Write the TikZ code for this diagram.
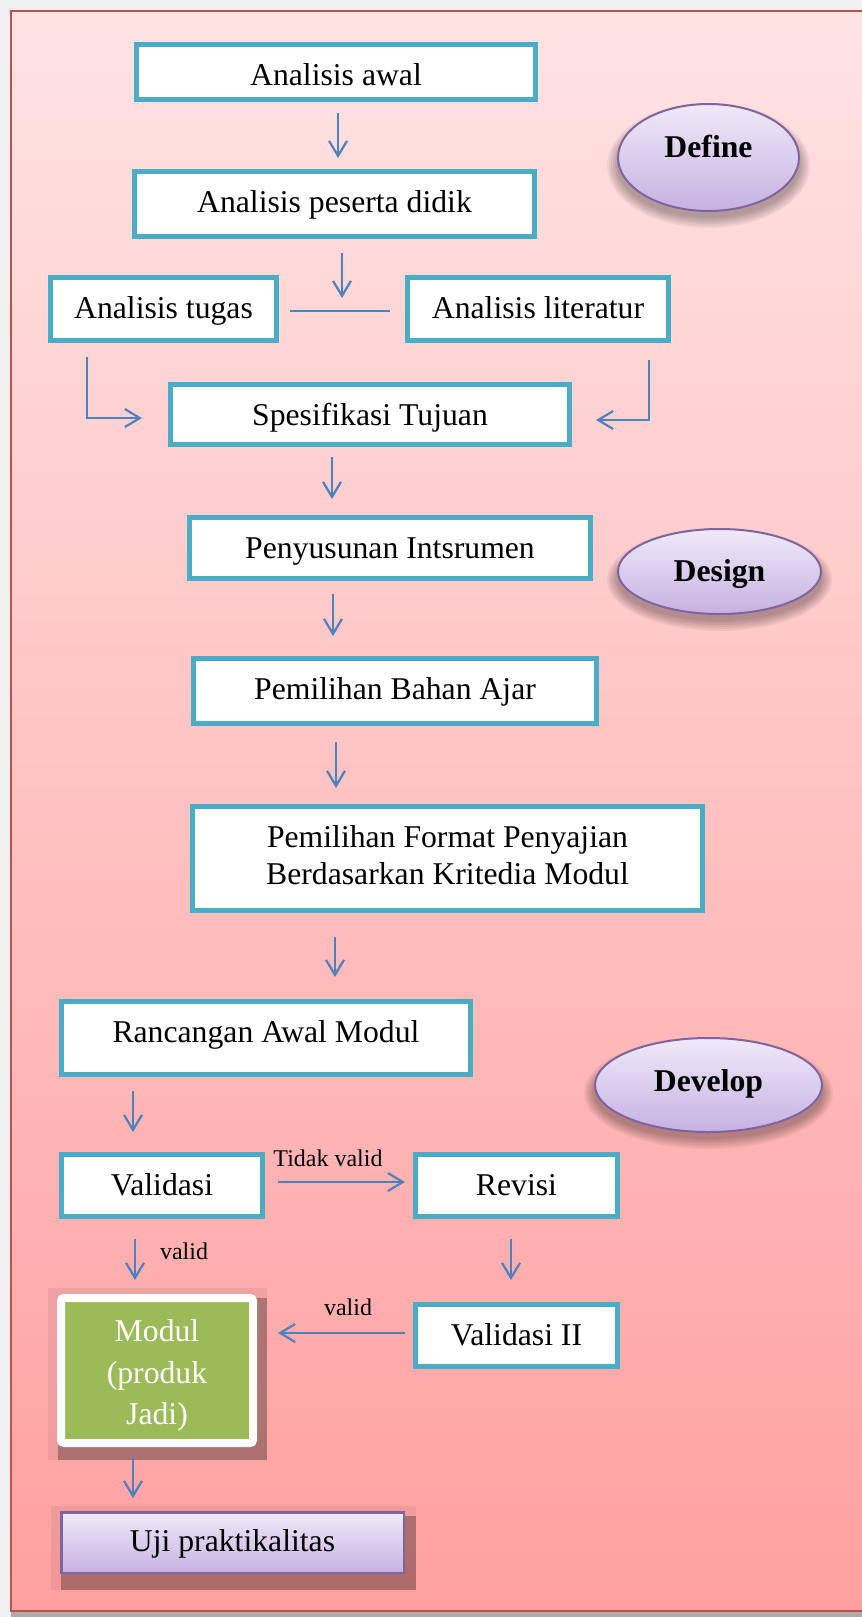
\documentclass[tikz,border=0pt]{standalone}
\usepackage{fontspec}
\setmainfont{Liberation Serif}
\usetikzlibrary{calc,shapes.geometric,arrows.meta}
\definecolor{cyanb}{HTML}{4BACC6}
\definecolor{arrb}{HTML}{4F81BD}
\definecolor{purb}{HTML}{8064A2}
\definecolor{lavtop}{HTML}{EFEAF8}
\definecolor{lavbot}{HTML}{C6B1E2}
\definecolor{framered}{HTML}{C0504D}
\definecolor{bgtop}{HTML}{FFE3E3}
\definecolor{bgbot}{HTML}{FFA0A0}
\definecolor{modgreen}{HTML}{9BBB59}
\definecolor{outergray}{HTML}{F0F0F0}
\begin{document}
\begin{tikzpicture}[x=1pt,y=1pt,
  stepbox/.style={rectangle, draw=cyanb, line width=5pt, fill=white, inner sep=0pt,
    font=\fontsize{31.7}{37}\selectfont},
  tb/.style={text depth=0pt, text height=#1},
  phase/.style={ellipse, draw=purb, line width=2pt, top color=lavtop, bottom color=lavbot,
    inner sep=0pt, font=\fontsize{31.7}{37}\selectfont\bfseries},
  arr/.style={draw=arrb, line width=2.2pt, -{Straight Barb[length=15pt,width=18pt]}},
  conn/.style={draw=arrb, line width=2.2pt},
  lbl/.style={inner sep=0pt, anchor=base, font=\fontsize{24}{28}\selectfont},
  halo/.style={fill=black, opacity=0.06},
  dshadow/.style={fill=black, opacity=0.28}
]
\useasboundingbox (0,0) rectangle (862,-1617);
% page background
\fill[outergray] (0,0) rectangle (862,-1617);
\fill[black!33] (11,-1612) rectangle (862,-1617);
\shade[top color=bgtop, bottom color=bgbot] (11,-11) rectangle (862,-1611);
\draw[framered, line width=2pt] (862,-11) -- (11,-11) -- (11,-1611) -- (862,-1611);

% shadows of ellipses
\foreach \cx/\cy/\rx/\ry in {708.5/157.5/91.5/54.5, 719.5/571.5/102.5/43.5, 708.5/1085/114.5/48}{
  \foreach \k in {0,...,5}{
    \fill[black, opacity=0.055] (\cx,{-(\cy+8)}) ellipse ({\rx+10-2*\k} and {\ry+8-2*\k});
  }
}
% shadows of Modul and Uji
\fill[halo] (48,-1288) rectangle (267,-1460);
\fill[dshadow] (58,-1298) rectangle (267,-1460);
\fill[halo] (51,-1506) rectangle (416,-1590);
\fill[dshadow] (61,-1516) rectangle (416,-1590);

% step boxes
\node[stepbox, tb=26pt, minimum width=399pt, minimum height=55pt] (awal) at (336,-72) {Analisis awal};
\node[stepbox, tb=16pt, minimum width=400pt, minimum height=65pt] (peserta) at (334.5,-204) {Analisis peserta didik};
\node[stepbox, tb=18pt, minimum width=226pt, minimum height=63pt] (tugas) at (163.5,-309) {Analisis tugas};
\node[stepbox, tb=18pt, minimum width=261pt, minimum height=63pt] (literatur) at (538,-309) {Analisis literatur};
\node[stepbox, tb=21pt, minimum width=399pt, minimum height=60pt] (spes) at (370,-414.5) {Spesifikasi Tujuan};
\node[stepbox, tb=20pt, minimum width=401pt, minimum height=61pt] (peny) at (390,-548) {Penyusunan Intsrumen};
\node[stepbox, tb=16pt, minimum width=403pt, minimum height=65pt] (bahan) at (395,-691) {Pemilihan Bahan Ajar};
\node[stepbox, align=center, minimum width=510pt, minimum height=104pt] (format) at (447.5,-858.5)
  {Pemilihan Format Penyajian\\Berdasarkan Kritedia Modul\rule[-8pt]{0pt}{8pt}};
\node[stepbox, tb=8pt, minimum width=409pt, minimum height=73pt] (ranc) at (266,-1038) {Rancangan Awal Modul};
\node[stepbox, tb=19pt, minimum width=201pt, minimum height=62pt] (valid) at (162,-1185.5) {Validasi};
\node[stepbox, tb=19pt, minimum width=202pt, minimum height=62pt] (revisi) at (516.5,-1185.5) {Revisi};
\node[stepbox, tb=19pt, minimum width=202pt, minimum height=62pt] (valid2) at (516.5,-1335.5) {Validasi II};
\node[rectangle, rounded corners=3pt, fill=modgreen, draw=white, line width=8pt, inner sep=0pt,
  minimum width=192pt, minimum height=145pt, text=white, align=center,
  font=\fontsize{31.7}{41.5}\selectfont] (modul) at (157,-1370.5)
  {\rule{0pt}{32pt}Modul\\(produk\\Jadi)};
\node[rectangle, draw=purb, line width=2.5pt, top color=lavtop, bottom color=lavbot, inner sep=0pt,
  minimum width=342.5pt, minimum height=60.5pt, text depth=0pt, text height=17pt,
  font=\fontsize{31.7}{37}\selectfont] (uji) at (232.5,-1542.5) {Uji praktikalitas};

% phase ellipses
\node[phase, minimum width=181pt, minimum height=107pt, text height=8pt, text depth=8pt] (define) at (708.5,-157.5) {Define};
\node[phase, minimum width=203pt, minimum height=85pt, text height=20pt, text depth=0pt] (design) at (719.5,-571.5) {Design};
\node[phase, minimum width=227pt, minimum height=94pt, text height=13.4pt, text depth=0pt] (develop) at (708.5,-1085) {Develop};

% connectors
\coordinate (j) at ($($(tugas.east)!0.5!(literatur.west)$)+(0,-2)$);
\draw[arr] ($(awal.south)+(2,-11)$) -- ($(peserta.north)+(3.5,11)$);
\draw[arr] ($(peserta.south -| j)+(0,-14)$) -- ($(j)+(0,13)$);
\draw[conn] ($(tugas.east)+(11,-2)$) -- ($(literatur.west)+(-15,-2)$);
\draw[arr] ($(tugas.south)+(-76.5,-14)$) |- ($(spes.west)+(-26,-3.5)$);
\draw[arr] ($(literatur.south)+(111,-17)$) |- ($(spes.east)+(24,-5.5)$);
\draw[arr] ($(spes.south)+(-38,-10)$) -- ($(peny.north)+(-58,16)$);
\draw[arr] ($(peny.south)+(-57,-13)$) -- ($(bahan.north)+(-62,20)$);
\draw[arr] ($(bahan.south)+(-59,-16)$) -- ($(format.north)+(-111.5,16)$);
\draw[arr] ($(format.south)+(-112.5,-24)$) -- ($(ranc.north)+(69,22)$);
\draw[arr] ($(ranc.south)+(-133,-14)$) -- ($(valid.north)+(-29,20)$);
\draw[arr] ($(valid.east)+(13,3.5)$) -- ($(revisi.west)+(-8,3.5)$);
\draw[arr] ($(valid.south)+(-27,-20)$) -- ($(modul.north)+(-22,14)$);
\draw[arr] ($(revisi.south)+(-5.5,-20)$) -- ($(valid2.north)+(-5.5,22)$);
\draw[arr] ($(valid2.west)+(-8,2.5)$) -- ($(modul.east)+(21,37.5)$);
\draw[arr] ($(modul.south)+(-24,-11)$) -- ($(uji.north)+(-99.5,13)$);

% labels
\node[lbl] (tv) at (328,-1166) {Tidak valid};
\node[lbl] (v1) at (184,-1259) {valid};
\node[lbl] (v2) at (348,-1315) {valid};
\end{tikzpicture}
\end{document}
